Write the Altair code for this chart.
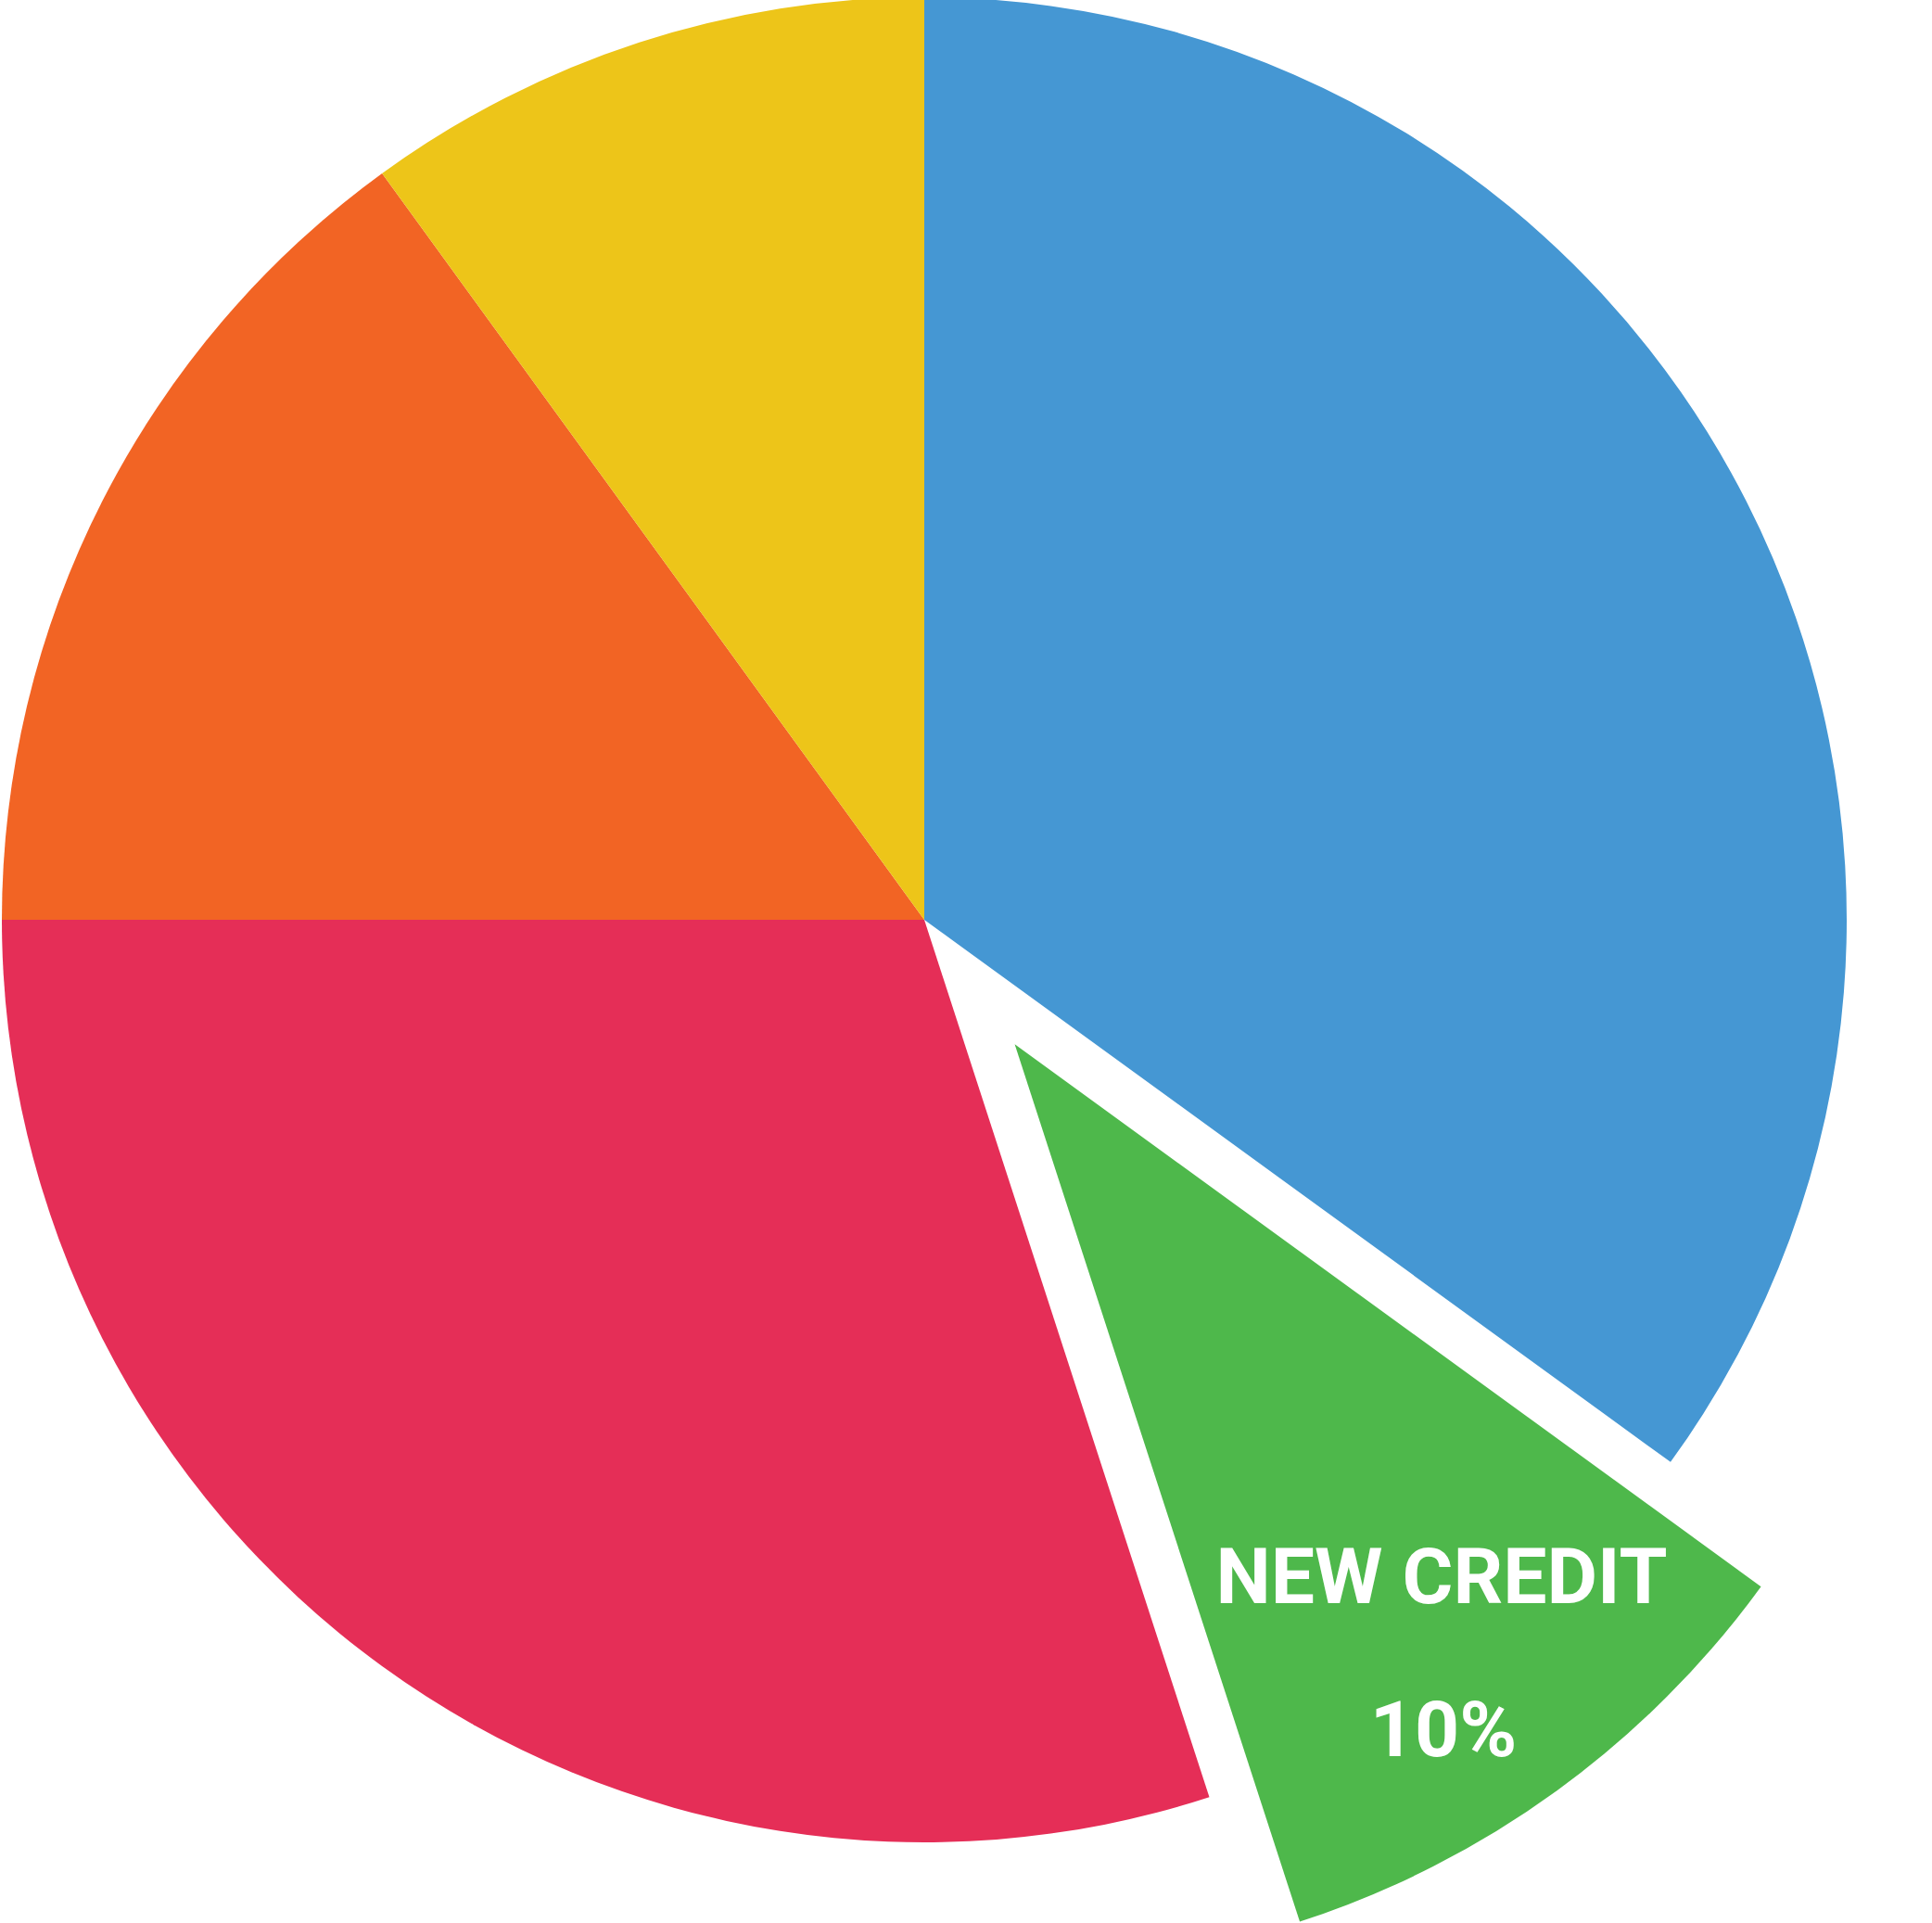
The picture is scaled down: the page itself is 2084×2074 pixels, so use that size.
import math
import altair as alt
import pandas as pd

categories = ["Payment History", "New Credit", "Amounts Owed", "Length of Credit History", "Credit Mix"]
values = [35, 10, 30, 15, 10]
order = [0, 1, 2, 3, 4]
colors = ["#4597D3", "#4EB84B", "#E52E57", "#F26424", "#EDC519"]
label_lines = ["NEW CREDIT", "10%"]

df = pd.DataFrame({"category": categories, "value": values, "order": order})

CX, CY, R = 997, 992, 995
EXPLODE = 166
mid_angle = math.radians((35 + 5) / 100 * 360)
EX, EY = CX + EXPLODE * math.sin(mid_angle), CY - EXPLODE * math.cos(mid_angle)

theta_scale = alt.Scale(domain=[0, 100], range=[0, math.tau])
color_scale = alt.Scale(domain=categories, range=colors)

base = (
    alt.Chart(df)
    .transform_window(cum="sum(value)", sort=[alt.SortField("order")], frame=[None, 0])
    .transform_calculate(start="datum.cum - datum.value")
)

main = base.transform_filter(alt.datum.category != "New Credit").mark_arc(radius=R).encode(
    theta=alt.Theta("start:Q", scale=theta_scale),
    theta2="cum:Q",
    color=alt.Color("category:N", scale=color_scale, legend=None),
    x=alt.value(CX),
    y=alt.value(CY),
)

green = base.transform_filter(alt.datum.category == "New Credit").mark_arc(radius=R).encode(
    theta=alt.Theta("start:Q", scale=theta_scale),
    theta2="cum:Q",
    color=alt.Color("category:N", scale=color_scale, legend=None),
    x=alt.value(EX),
    y=alt.value(EY),
)

text_df = pd.DataFrame({"line": label_lines, "row": [0, 1]})
text_style = dict(
    font="Roboto, Liberation Sans, sans-serif",
    fontWeight="bold",
    fontSize=84,
    color="white",
    align="center",
    baseline="middle",
)
label1 = alt.Chart(text_df).transform_filter(alt.datum.row == 0).mark_text(**text_style).encode(
    text="line:N", x=alt.value(1555), y=alt.value(1704)
)
label2 = alt.Chart(text_df).transform_filter(alt.datum.row == 1).mark_text(**text_style).encode(
    text="line:N", x=alt.value(1557), y=alt.value(1869)
)

chart = alt.layer(main, green, label1, label2).properties(
    width=2084, height=2074, autosize=alt.AutoSizeParams(type="none"), padding=0
).configure_view(stroke=None)

chart.save("out.html", embed_options={"renderer": "svg", "actions": False})
